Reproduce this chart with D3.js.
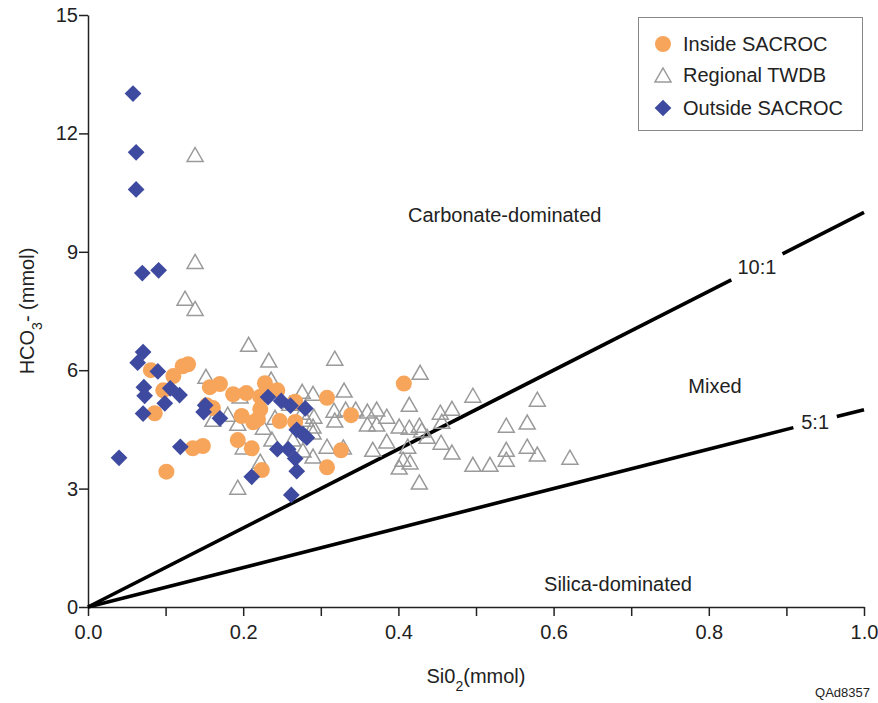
<!DOCTYPE html>
<html>
<head>
<meta charset="utf-8">
<script src="https://cdn.jsdelivr.net/npm/d3@7"></script>
<style>
  body { margin: 0; background: #fff; }
  svg text { font-family: "Liberation Sans", Arial, sans-serif; fill: #222; }
</style>
</head>
<body>
<script>
// chart data: [SiO2 mmol, HCO3 mmol]
const twdb = [
  [0.138, 11.44], [0.138, 8.73], [0.125, 7.80], [0.138, 7.54], [0.207, 6.63],
  [0.233, 6.23], [0.318, 6.28], [0.428, 5.92], [0.152, 5.82], [0.236, 5.75],
  [0.276, 5.44], [0.290, 5.39], [0.330, 5.47], [0.196, 5.32], [0.180, 4.86],
  [0.161, 4.73], [0.193, 4.63], [0.226, 4.53], [0.237, 4.23], [0.264, 4.23],
  [0.290, 4.41], [0.241, 4.78], [0.276, 4.91], [0.281, 4.73], [0.291, 4.81],
  [0.222, 3.67], [0.200, 4.03], [0.277, 3.95], [0.290, 3.80], [0.193, 3.01],
  [0.414, 5.11], [0.317, 4.96], [0.318, 4.71], [0.332, 4.99], [0.345, 4.99],
  [0.360, 4.94], [0.372, 4.99], [0.385, 4.81], [0.360, 4.61], [0.372, 4.61],
  [0.401, 4.56], [0.414, 4.53], [0.427, 4.58], [0.430, 4.46], [0.454, 4.91],
  [0.437, 4.30], [0.290, 4.56], [0.308, 4.05], [0.329, 4.03], [0.367, 3.97],
  [0.385, 4.18], [0.406, 3.72], [0.415, 3.65], [0.401, 3.52], [0.427, 3.14],
  [0.412, 4.05], [0.455, 4.15], [0.469, 5.01], [0.456, 4.68], [0.496, 5.34],
  [0.579, 5.24], [0.539, 4.58], [0.566, 4.66], [0.469, 3.90], [0.496, 3.59],
  [0.518, 3.59], [0.539, 3.97], [0.539, 3.72], [0.566, 4.05], [0.579, 3.85],
  [0.621, 3.77], [0.260, 5.14]
];

const inside = [
  [0.081, 6.00], [0.122, 6.10], [0.129, 6.15], [0.110, 5.85], [0.097, 5.49],
  [0.086, 4.91], [0.157, 5.57], [0.170, 5.65], [0.187, 5.39], [0.204, 5.42],
  [0.228, 5.67], [0.244, 5.49], [0.222, 5.33], [0.153, 5.11], [0.161, 5.04],
  [0.198, 4.84], [0.213, 4.68], [0.219, 4.76], [0.222, 5.01], [0.247, 4.71],
  [0.267, 4.69], [0.267, 5.20], [0.308, 5.30], [0.339, 4.86], [0.193, 4.23],
  [0.211, 4.02], [0.135, 4.02], [0.148, 4.08], [0.101, 3.43], [0.326, 3.97],
  [0.308, 3.54], [0.224, 3.47], [0.407, 5.66]
];

const outside = [
  [0.058, 13.01], [0.062, 11.52], [0.062, 10.58], [0.070, 8.46], [0.091, 8.53],
  [0.071, 6.46], [0.064, 6.19], [0.090, 5.97], [0.072, 5.57], [0.073, 5.35],
  [0.071, 4.90], [0.106, 5.54], [0.118, 5.37], [0.099, 5.16], [0.119, 4.06],
  [0.040, 3.78], [0.151, 5.11], [0.149, 4.94], [0.170, 4.78], [0.232, 5.32],
  [0.249, 5.22], [0.261, 5.10], [0.280, 5.03], [0.269, 4.49], [0.277, 4.38],
  [0.282, 4.29], [0.244, 4.00], [0.258, 4.00], [0.267, 3.76], [0.269, 3.44],
  [0.211, 3.30], [0.262, 2.84]
];

// ratio lines HCO3:SiO2
const ratios = [
  { label: "10:1", k: 10, at: 0.862, gap: 0.066 },
  { label: "5:1", k: 5, at: 0.937, gap: 0.056 }
];

const regionLabels = [
  { text: "Carbonate-dominated", x: 0.537, y: 9.95 },
  { text: "Mixed", x: 0.808, y: 5.6 },
  { text: "Silica-dominated", x: 0.683, y: 0.6 }
];

const xTicks = d3.range(0, 1.01, 0.1);
const yTicks = [0, 3, 6, 9, 12, 15];

const width = 878, height = 703;
const svg = d3.select("body").append("svg")
    .attr("width", width)
    .attr("height", height);

const x = d3.scaleLinear().domain([0, 1]).range([88, 864]);
const y = d3.scaleLinear().domain([0, 15]).range([607, 15]);

const orange = "#f8a55c", blue = "#3e4a9f", grey = "#9a9a9a";
const fs = "20px";

// axes
const xAxis = svg.append("g")
    .attr("transform", "translate(0,607)")
    .call(d3.axisBottom(x).tickValues(xTicks).tickSize(9).tickSizeOuter(0)
        .tickFormat(d => (Math.round(d * 10) % 2 === 0) ? d3.format(".1f")(d) : ""));
const yAxis = svg.append("g")
    .attr("transform", "translate(88,0)")
    .call(d3.axisLeft(y).tickValues(yTicks).tickSize(9).tickSizeOuter(0));

[xAxis, yAxis].forEach(g => {
  g.select(".domain").attr("stroke", "#222").attr("stroke-width", 1.5);
  g.selectAll(".tick line").attr("stroke", "#222").attr("stroke-width", 1.5);
  g.selectAll(".tick text").style("font-size", fs).attr("fill", "#222");
});
xAxis.selectAll(".tick text").attr("y", 18).attr("dy", "0.71em");
yAxis.selectAll(".tick text").attr("x", -10);

// ratio lines, broken where the label sits
ratios.forEach(r => {
  const segs = [[0, r.at - r.gap / 2], [r.at + r.gap / 2, 1]];
  segs.forEach(s => {
    svg.append("line")
        .attr("x1", x(s[0])).attr("y1", y(r.k * s[0]))
        .attr("x2", x(s[1])).attr("y2", y(r.k * s[1]))
        .attr("stroke", "#000").attr("stroke-width", 3.6);
  });
  svg.append("text")
      .attr("x", x(r.at)).attr("y", y(r.k * r.at))
      .attr("text-anchor", "middle").attr("dy", "0.36em")
      .style("font-size", fs)
      .text(r.label);
});

svg.selectAll(".region").data(regionLabels).enter().append("text")
    .attr("x", d => x(d.x)).attr("y", d => y(d.y))
    .attr("text-anchor", "middle").attr("dy", "0.36em")
    .style("font-size", fs)
    .text(d => d.text);

// triangles (hollow)
const tri = "M0,-8L8,6L-8,6Z";
svg.append("g").selectAll("path").data(twdb).enter().append("path")
    .attr("d", tri)
    .attr("transform", d => `translate(${x(d[0])},${y(d[1])})`)
    .attr("fill", "none").attr("stroke", grey).attr("stroke-width", 1.5);

svg.append("g").selectAll("circle").data(inside).enter().append("circle")
    .attr("cx", d => x(d[0])).attr("cy", d => y(d[1]))
    .attr("r", 8).attr("fill", orange);

const diamond = d3.symbol().type(d3.symbolSquare).size(140)();
svg.append("g").selectAll("path").data(outside).enter().append("path")
    .attr("d", diamond)
    .attr("transform", d => `translate(${x(d[0])},${y(d[1])}) rotate(45)`)
    .attr("fill", blue);

// axis titles
const yTitle = svg.append("text")
    .attr("transform", "translate(34,311) rotate(-90)")
    .attr("text-anchor", "middle")
    .style("font-size", fs);
yTitle.append("tspan").text("HCO");
yTitle.append("tspan").attr("baseline-shift", "sub").style("font-size", "14px").text("3");
yTitle.append("tspan").text("- (mmol)");

const xTitle = svg.append("text")
    .attr("x", 476).attr("y", 683)
    .attr("text-anchor", "middle")
    .style("font-size", fs);
xTitle.append("tspan").text("Si0");
xTitle.append("tspan").attr("baseline-shift", "sub").style("font-size", "14px").text("2");
xTitle.append("tspan").text("(mmol)");

svg.append("text")
    .attr("x", 870).attr("y", 697)
    .attr("text-anchor", "end")
    .style("font-size", "13px")
    .text("QAd8357");

// legend
const legend = svg.append("g");
legend.append("rect")
    .attr("x", 638.5).attr("y", 17.5).attr("width", 224).attr("height", 113)
    .attr("fill", "#fff").attr("stroke", "#888").attr("stroke-width", 1);
const legendItems = ["Inside SACROC", "Regional TWDB", "Outside SACROC"];
const legendY = [44, 75, 108];
legendItems.forEach((name, i) => {
  const cy = legendY[i];
  if (i === 0) {
    legend.append("circle").attr("cx", 663).attr("cy", cy).attr("r", 8).attr("fill", orange);
  } else if (i === 1) {
    legend.append("path").attr("d", tri).attr("transform", `translate(663,${cy + 1})`)
        .attr("fill", "none").attr("stroke", grey).attr("stroke-width", 1.5);
  } else {
    legend.append("path").attr("d", diamond).attr("transform", `translate(663,${cy}) rotate(45)`)
        .attr("fill", blue);
  }
  legend.append("text")
      .attr("x", 683).attr("y", cy).attr("dy", "0.36em")
      .style("font-size", fs)
      .text(name);
});
</script>
</body>
</html>
